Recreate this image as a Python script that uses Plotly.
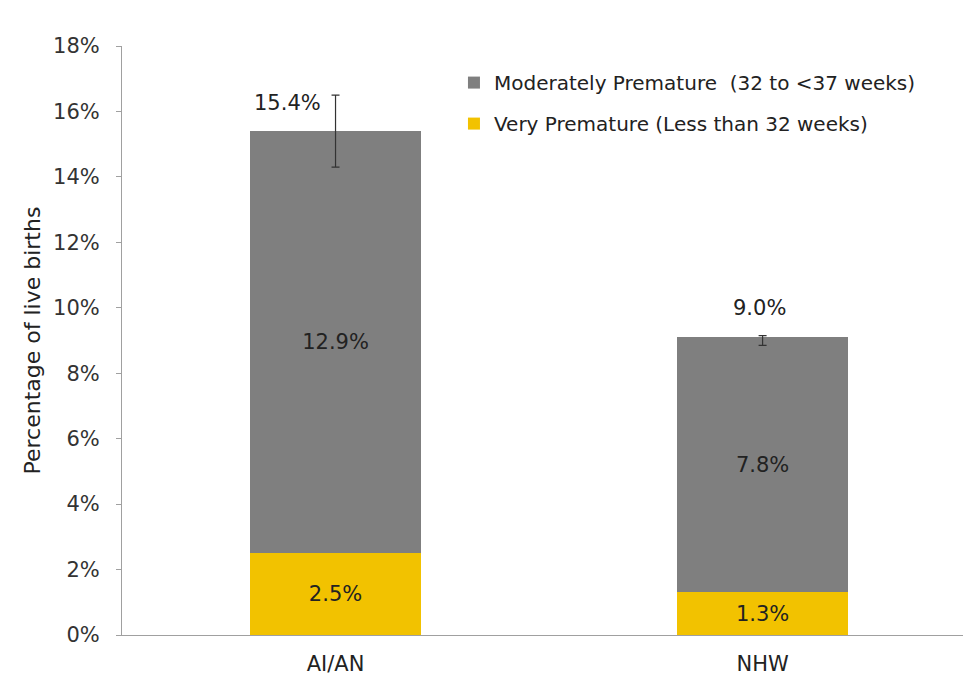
import plotly.graph_objects as go

categories = ["AI/AN", "NHW"]
very_premature = [2.5, 1.3]
moderately_premature = [12.9, 7.8]
totals = [15.4, 9.0]
total_err = [1.1, 0.15]
y_ticks = [0, 2, 4, 6, 8, 10, 12, 14, 16, 18]
y_tick_labels = [f"{v}%" for v in y_ticks]

GRAY = "#7f7f7f"
GOLD = "#f2c200"
FONT = "DejaVu Sans, Liberation Sans, Arial, sans-serif"
TXT = "#222222"

fig = go.Figure()
fig.add_trace(go.Bar(
    x=categories, y=very_premature, name="Very Premature (Less than 32 weeks)",
    marker=dict(color=GOLD, line=dict(width=0)),
    text=[f"{v:.1f}%" for v in very_premature], textposition="inside",
    insidetextanchor="middle", textfont=dict(size=21, color=TXT, family=FONT),
    legendgroup="b", legendrank=2, width=0.4,
))
fig.add_trace(go.Bar(
    x=categories, y=moderately_premature, name="Moderately Premature  (32 to <37 weeks)",
    marker=dict(color=GRAY, line=dict(width=0)),
    text=[f"{v:.1f}%" for v in moderately_premature], textposition="inside",
    insidetextanchor="middle", textfont=dict(size=21, color=TXT, family=FONT),
    legendgroup="a", legendrank=1, width=0.4,
))
# error bars on totals
fig.add_trace(go.Scatter(
    x=categories, y=totals, mode="markers", marker=dict(size=0.1, color="rgba(0,0,0,0)"),
    error_y=dict(type="data", array=total_err, color="#333333", thickness=1.2, width=4),
    showlegend=False, hoverinfo="skip",
))

# total labels
fig.add_annotation(x=categories[0], y=totals[0], text=f"{totals[0]:.1f}%", showarrow=False,
                   xshift=-48, yshift=28, font=dict(size=21, color=TXT, family=FONT))
fig.add_annotation(x=categories[1], y=totals[1], text=f"{totals[1]:.1f}%", showarrow=False,
                   xshift=-3, yshift=33, font=dict(size=21, color=TXT, family=FONT))

# y-axis title
fig.add_annotation(xref="paper", yref="paper", x=-90 / 849, y=0.5, text="Percentage of live births",
                   textangle=-90, showarrow=False, xanchor="center", yanchor="middle",
                   font=dict(size=22, color=TXT, family=FONT))

fig.update_layout(
    barmode="stack",
    width=971, height=679,
    margin=dict(l=114, r=8, t=38, b=52, autoexpand=False),
    paper_bgcolor="white", plot_bgcolor="white",
    font=dict(family=FONT, size=21, color="#333333"),
    legend=dict(x=0.391, y=0.971, xanchor="left", yanchor="top", traceorder="grouped",
                tracegroupgap=12, font=dict(size=20, color=TXT),
                bgcolor="rgba(0,0,0,0)", itemwidth=30),
    xaxis=dict(range=[-0.5, 1.488], showline=True, linecolor="#a0a0a0", linewidth=1,
               ticks="", ticklabelstandoff=10, tickfont=dict(size=21, color=TXT)),
    yaxis=dict(range=[0, 18], tickvals=y_ticks, ticktext=y_tick_labels, showgrid=False,
               showline=True, linecolor="#a0a0a0", linewidth=1, ticks="outside",
               ticklen=5, tickcolor="#a0a0a0", zeroline=False, ticklabelstandoff=12,
               tickfont=dict(size=21, color="#333333")),
    bargap=0.6,
)

fig.write_html("out.html")
